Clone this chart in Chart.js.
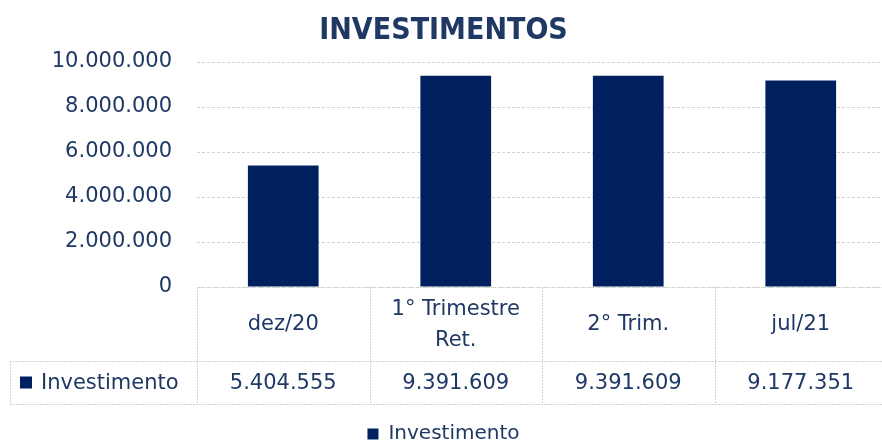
<!DOCTYPE html>
<html><head><meta charset="utf-8">
<script src="https://cdn.jsdelivr.net/npm/chart.js@4"></script>
<style>html,body{margin:0;padding:0;background:#fff;overflow:hidden}#wrap{width:882px;height:441px;position:relative;overflow:hidden}</style>
</head><body><div id="wrap"><canvas id="c" width="887" height="441"></canvas></div>
<script>
const chartTitle = 'INVESTIMENTOS';
const seriesName = 'Investimento';
const categories = [['dez/20'], ['1° Trimestre', 'Ret.'], ['2° Trim.'], ['jul/21']];
const investimento = [5404555, 9391609, 9391609, 9177351];
const yTicks = [0, 2000000, 4000000, 6000000, 8000000, 10000000];

const NAVY = '#002060', TXT = '#1F3864', GRID = '#d3d3d3';
const FONT = "'DejaVu Sans', sans-serif";
function fmt(n){ return String(Math.round(n)).replace(/\B(?=(\d{3})+(?!\d))/g, '.'); }

const tablePlugin = {
  id: 'dataTable',
  afterDraw(chart){
    const ctx = chart.ctx, xs = chart.scales.x, a = chart.chartArea;
    const top = a.bottom, rowTop = top + 74, rowBot = top + 117, left = 10;
    const half = (xs.getPixelForValue(1) - xs.getPixelForValue(0)) / 2;
    ctx.save();
    ctx.strokeStyle = GRID; ctx.lineWidth = 1; ctx.setLineDash([2, 1]);
    const line = (x1,y1,x2,y2)=>{ ctx.beginPath(); ctx.moveTo(x1,y1); ctx.lineTo(x2,y2); ctx.stroke(); };
    line(a.left, top + 0.5, a.right, top + 0.5);
    line(left, rowTop + 0.5, a.right, rowTop + 0.5);
    line(left, rowBot + 0.5, a.right, rowBot + 0.5);
    line(left + 0.5, rowTop, left + 0.5, rowBot);
    for (let i = 0; i < categories.length; i++) {
      const bx = Math.round(xs.getPixelForValue(i) - half) + 0.5;
      line(bx, top, bx, rowBot);
    }
    ctx.setLineDash([]);
    ctx.fillStyle = TXT; ctx.textAlign = 'center'; ctx.textBaseline = 'middle';
    ctx.font = '21px ' + FONT;
    const hMid = (top + rowTop) / 2 + 1, lh = 31;
    categories.forEach((lines, i) => {
      const cx = xs.getPixelForValue(i);
      lines.forEach((t, k) => ctx.fillText(t, cx, hMid + (k - (lines.length - 1) / 2) * lh));
    });
    const vMid = (rowTop + rowBot) / 2;
    investimento.forEach((v, i) => ctx.fillText(fmt(v), xs.getPixelForValue(i), vMid + 1));
    ctx.fillStyle = NAVY; ctx.fillRect(20, vMid - 6, 12, 12);
    ctx.fillStyle = TXT; ctx.textAlign = 'left';
    ctx.fillText(seriesName, 41, vMid + 1);
    ctx.restore();
  }
};

new Chart(document.getElementById('c'), {
  type: 'bar',
  data: {
    labels: categories.map(c => c.join(' ')),
    datasets: [{ label: seriesName, data: investimento, backgroundColor: NAVY, borderWidth: 0,
      categoryPercentage: 1, barPercentage: 0.41 }]
  },
  options: {
    responsive: false, animation: false, devicePixelRatio: 1,
    layout: { padding: { left: 0, right: 0, top: 0, bottom: -13 } },
    plugins: {
      title: { display: true, text: chartTitle, color: TXT,
        font: { family: "'DejaVu Sans Condensed', 'DejaVu Sans', sans-serif", size: 30, weight: 'bold' },
        padding: { top: 13, bottom: 13 } },
      legend: { position: 'bottom',
        labels: { color: TXT, font: { family: FONT, size: 20 }, boxWidth: 11, boxHeight: 11, padding: 8 } },
      tooltip: { enabled: false }
    },
    scales: {
      x: { grid: { display: false }, border: { display: false }, ticks: { display: false },
        afterFit(s){ s.height = 129; } },
      y: { min: 0, max: 10000000,
        afterBuildTicks(s){ s.ticks = yTicks.map(v => ({ value: v })); },
        afterFit(s){ s.width = 197; },
        grid: { color: GRID, drawTicks: false },
        border: { display: false, dash: [3, 2] },
        ticks: { color: TXT, font: { family: FONT, size: 21 }, padding: 25, callback: v => fmt(v) } }
    }
  },
  plugins: [tablePlugin]
});
</script></body></html>
